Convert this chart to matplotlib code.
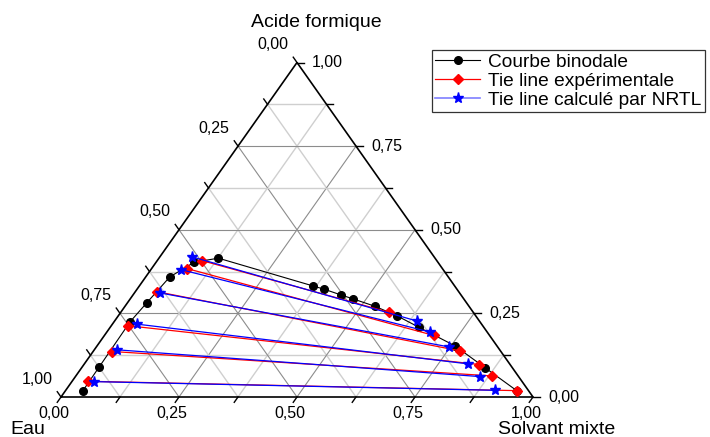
import matplotlib.pyplot as plt
from matplotlib.lines import Line2D

plt.rcParams["font.family"] = ["Liberation Sans", "DejaVu Sans"]

# mass fractions: acide formique, solvant mixte (eau = 1 - acide - solvant)
binodal_acide = [0.019, 0.091, 0.225, 0.282, 0.359, 0.403, 0.415,
                 0.332, 0.322, 0.305, 0.293, 0.271, 0.243, 0.208, 0.153, 0.088, 0.019]
binodal_solvant = [0.037, 0.036, 0.034, 0.041, 0.051, 0.081, 0.126,
                   0.368, 0.397, 0.441, 0.473, 0.530, 0.590, 0.655, 0.758, 0.854, 0.956]

# experimental tie lines: aqueous phase / organic phase
exp_aq_acide = [0.408, 0.384, 0.315, 0.213, 0.136, 0.047]
exp_aq_solvant = [0.094, 0.075, 0.045, 0.036, 0.041, 0.034]
exp_org_acide = [0.253, 0.184, 0.138, 0.097, 0.063, 0.019]
exp_org_solvant = [0.569, 0.698, 0.776, 0.838, 0.881, 0.956]

# NRTL tie lines
nrtl_aq_acide = [0.419, 0.381, 0.311, 0.218, 0.141, 0.046]
nrtl_aq_solvant = [0.068, 0.063, 0.055, 0.051, 0.049, 0.046]
nrtl_org_acide = [0.227, 0.194, 0.150, 0.099, 0.061, 0.020]
nrtl_org_solvant = [0.641, 0.685, 0.746, 0.813, 0.857, 0.910]

tick_values = [0, 0.125, 0.25, 0.375, 0.5, 0.625, 0.75, 0.875, 1.0]
label_values = [0, 0.25, 0.5, 0.75, 1.0]
label_texts = ["0,00", "0,25", "0,50", "0,75", "1,00"]


def to_xy(acide, solvant):
    xs = [s + a / 2 for a, s in zip(acide, solvant)]
    return xs, list(acide)


fig = plt.figure(figsize=(7.1, 4.37), dpi=100)
ax = fig.add_axes([0, 0, 1, 1])
# triangle: Eau (0,0), Solvant (1,0), Acide (0.5,1)
ax.set_xlim(-61 / 472, (710 - 61) / 472)
ax.set_ylim(-40 / 334.5, (437 - 40) / 334.5)
ax.axis("off")

# grid
for k in tick_values[1:-1]:
    major = k in label_values
    col = "#8c8c8c" if major else "#cfcfcf"
    lw = 0.8 if major else 1.0
    ax.plot([k / 2, 1 - k / 2], [k, k], color=col, lw=lw, zorder=1)
    ax.plot([k, k + (1 - k) / 2], [0, 1 - k], color=col, lw=lw, zorder=1)
    ax.plot([1 - k, (1 - k) / 2], [0, 1 - k], color=col, lw=lw, zorder=1)

# frame
ax.plot([0, 1, 0.5, 0], [0, 0, 1, 0], color="black", lw=1.2, zorder=2,
        solid_joinstyle="miter")

# ticks
tl = 6.5
for k in tick_values:
    # bottom axis (Solvant mixte)
    ax.plot([k, k - 0.5 * tl / 409], [0, -tl / 409], color="black", lw=1.0, zorder=2)
    # left axis (Eau)
    px, py = (1 - k) / 2, 1 - k
    ax.plot([px, px - 0.5 * tl / 409], [py, py + tl / 409], color="black", lw=1.0, zorder=2)
    # right axis (Acide formique)
    ax.plot([1 - k / 2, 1 - k / 2 + tl / 472], [k, k], color="black", lw=1.0, zorder=2)

fs_tick = 11.5
for v, t in zip(label_values, label_texts):
    ax.annotate(t, xy=(v, 0), xytext=(-7, -16.5), textcoords="offset pixels",
                ha="center", va="center", fontsize=fs_tick)
    ax.annotate(t, xy=((1 - v) / 2, 1 - v), xytext=(-24, 18), textcoords="offset pixels",
                ha="center", va="center", fontsize=fs_tick)
    ax.annotate(t, xy=(1 - v / 2, v), xytext=(15, 0), textcoords="offset pixels",
                ha="left", va="center", fontsize=fs_tick)

fs_title = 14
ax.annotate("Acide formique", xy=(0.5, 1), xytext=(19, 40), textcoords="offset pixels",
            ha="center", va="center", fontsize=fs_title)
ax.annotate("Eau", xy=(0, 0), xytext=(-33, -32), textcoords="offset pixels",
            ha="center", va="center", fontsize=fs_title)
ax.annotate("Solvant mixte", xy=(1, 0), xytext=(24, -32), textcoords="offset pixels",
            ha="center", va="center", fontsize=fs_title)

# binodal curve
bx, by = to_xy(binodal_acide, binodal_solvant)
ax.plot(bx, by, color="black", lw=0.8, marker="o", ms=5.5, mfc="black", mec="black", zorder=3)

# tie lines
for i in range(len(exp_aq_acide)):
    x, y = to_xy([exp_aq_acide[i], exp_org_acide[i]], [exp_aq_solvant[i], exp_org_solvant[i]])
    ax.plot(x, y, color="red", lw=0.9, marker="D", ms=5.5, mfc="red", mec="red", zorder=4)
for i in range(len(nrtl_aq_acide)):
    x, y = to_xy([nrtl_aq_acide[i], nrtl_org_acide[i]], [nrtl_aq_solvant[i], nrtl_org_solvant[i]])
    ax.plot(x, y, color="blue", lw=0.9, marker="*", ms=8, mfc="blue", mec="blue", zorder=5)

handles = [
    Line2D([], [], color="black", lw=0.8, marker="o", ms=5.5),
    Line2D([], [], color="red", lw=0.9, marker="D", ms=5.5),
    Line2D([], [], color="#7f7fff", lw=1.2, marker="*", ms=8, mfc="blue", mec="blue"),
]
labels = ["Courbe binodale", "Tie line expérimentale", "Tie line calculé par NRTL"]
leg = fig.legend(handles, labels, loc="upper left", bbox_to_anchor=(432 / 710, 1 - 50 / 437),
                 borderaxespad=0, fontsize=13.8, frameon=True, fancybox=False,
                 edgecolor="black", labelspacing=0.08, handlelength=2.35,
                 handletextpad=0.4, borderpad=0.18)
leg.get_frame().set_linewidth(0.9)

fig.savefig("out.png", dpi=100)
